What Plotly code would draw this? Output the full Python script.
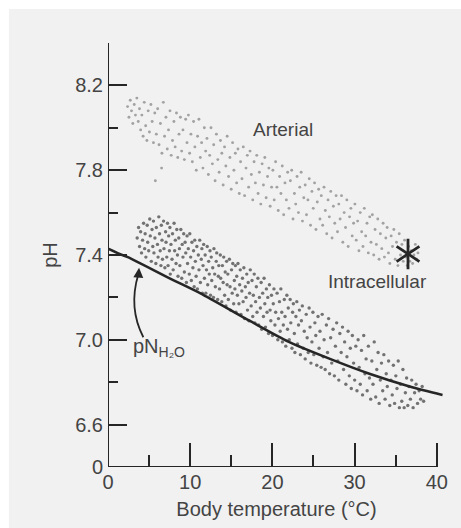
import plotly.graph_objects as go

# ---------------- data ----------------
x_tick_vals = [0, 10, 20, 30, 40]
x_tick_text = ["0", "10", "20", "30", "40"]
x_minor_vals = [5, 15, 25, 35]
y_tick_vals = [6.4, 6.6, 7.0, 7.4, 7.8, 8.2]
y_tick_text = ["0", "6.6", "7.0", "7.4", "7.8", "8.2"]
y_minor_vals = [6.8, 7.2, 7.6, 8.0, 8.4]

# pN(H2O) neutral-water curve
nh2o_temp = [0, 1.4, 2.4, 7.5, 11.2, 17.2, 22.0, 27.0, 31.8, 36.7, 40.7]
nh2o_ph = [7.43, 7.405, 7.39, 7.29, 7.22, 7.09, 6.99, 6.91, 6.84, 6.78, 6.74]

# human arterial value (star)
star_temp = [36.5]
star_ph = [7.405]

arterial_points = [
    (2.38, 8.10), (2.55, 8.05), (2.71, 8.13), (2.86, 8.08), (3.02, 8.02), (3.19, 8.11), (3.34, 8.06), (3.51, 8.14),
    (3.68, 8.03), (3.83, 8.09), (3.97, 7.99),
    (4.12, 8.06), (4.27, 7.96), (4.41, 8.12), (4.58, 8.01), (4.73, 7.94), (4.89, 8.08), (5.04, 7.98), (5.22, 8.11),
    (5.37, 8.03), (5.53, 7.93), (5.69, 8.07), (5.76, 7.75), (5.88, 7.97),
    (6.04, 8.09), (6.21, 7.92), (6.38, 8.02), (6.52, 7.81), (6.56, 7.88), (6.73, 8.12), (6.88, 7.96), (7.05, 8.05),
    (7.21, 7.90), (7.36, 7.99), (7.54, 8.08), (7.69, 7.87), (7.85, 7.94),
    (8.02, 8.03), (8.17, 7.91), (8.33, 8.07), (8.49, 7.86), (8.64, 7.97), (8.81, 8.05), (8.96, 7.89), (9.12, 7.99),
    (9.29, 7.85), (9.45, 8.04), (9.61, 7.93), (9.78, 8.06), (9.93, 7.88),
    (10.09, 7.97), (10.26, 7.84), (10.41, 8.03), (10.57, 7.91), (10.74, 7.80), (10.90, 7.96), (11.06, 8.04),
    (11.23, 7.86), (11.39, 7.93), (11.55, 7.81), (11.72, 8.00), (11.88, 7.89),
    (12.04, 7.95), (12.21, 7.78), (12.37, 7.87), (12.53, 8.00), (12.70, 7.83), (12.86, 7.92), (13.03, 7.75),
    (13.19, 7.97), (13.36, 7.85), (13.52, 7.79), (13.68, 7.94), (13.85, 7.88),
    (14.01, 7.73), (14.18, 7.91), (14.34, 7.82), (14.50, 7.96), (14.67, 7.77), (14.83, 7.86), (14.99, 7.71),
    (15.16, 7.93), (15.32, 7.80), (15.49, 7.88), (15.65, 7.74), (15.81, 7.90), (15.97, 7.69),
    (16.13, 7.84), (16.30, 7.76), (16.46, 7.91), (16.62, 7.68), (16.79, 7.81), (16.95, 7.87), (17.11, 7.72),
    (17.28, 7.89), (17.44, 7.78), (17.61, 7.66), (17.77, 7.84), (17.93, 7.74),
    (18.10, 7.87), (18.26, 7.69), (18.42, 7.79), (18.59, 7.64), (18.75, 7.83), (18.91, 7.73), (19.08, 7.86),
    (19.24, 7.67), (19.41, 7.77), (19.57, 7.81), (19.73, 7.63), (19.90, 7.72),
    (20.06, 7.80), (20.22, 7.66), (20.39, 7.84), (20.55, 7.72), (20.71, 7.61), (20.88, 7.77), (21.04, 7.69),
    (21.20, 7.82), (21.37, 7.59), (21.53, 7.74), (21.70, 7.66), (21.86, 7.79),
    (22.02, 7.62), (22.19, 7.75), (22.35, 7.80), (22.51, 7.57), (22.68, 7.69), (22.84, 7.64), (23.00, 7.77),
    (23.17, 7.60), (23.33, 7.72), (23.50, 7.79), (23.66, 7.56), (23.82, 7.67),
    (23.99, 7.73), (24.15, 7.59), (24.32, 7.66), (24.48, 7.76), (24.64, 7.54), (24.81, 7.70), (24.97, 7.62),
    (25.13, 7.74), (25.30, 7.52), (25.46, 7.65), (25.63, 7.71), (25.79, 7.57),
    (25.95, 7.68), (26.12, 7.54), (26.28, 7.72), (26.44, 7.61), (26.61, 7.50), (26.77, 7.66), (26.93, 7.58),
    (27.10, 7.70), (27.26, 7.48), (27.42, 7.63), (27.59, 7.55), (27.75, 7.68), (27.92, 7.51),
    (28.08, 7.64), (28.24, 7.57), (28.41, 7.68), (28.57, 7.46), (28.73, 7.60), (28.90, 7.53), (29.06, 7.66),
    (29.22, 7.44), (29.39, 7.58), (29.55, 7.62), (29.71, 7.49), (29.88, 7.55),
    (30.04, 7.64), (30.20, 7.47), (30.37, 7.56), (30.53, 7.42), (30.69, 7.60), (30.86, 7.51), (31.02, 7.44),
    (31.18, 7.62), (31.35, 7.49), (31.51, 7.55), (31.67, 7.41), (31.84, 7.58),
    (32.00, 7.46), (32.16, 7.59), (32.33, 7.40), (32.49, 7.52), (32.65, 7.45), (32.82, 7.57), (32.98, 7.38),
    (33.14, 7.50), (33.31, 7.43), (33.47, 7.55), (33.63, 7.39), (33.80, 7.48),
    (33.96, 7.53), (34.12, 7.41), (34.29, 7.36), (34.45, 7.49), (34.61, 7.44), (34.78, 7.52), (34.94, 7.38),
    (35.10, 7.46), (35.27, 7.35), (35.43, 7.50), (35.59, 7.40), (35.76, 7.45), (35.92, 7.37),
    (36.08, 7.47), (36.24, 7.39), (36.41, 7.35), (36.57, 7.44), (36.73, 7.37), (36.90, 7.42), (37.06, 7.36),
    (37.22, 7.40), (37.39, 7.45), (37.55, 7.38), (37.71, 7.41),
]

intracellular_points = [
    (3.55, 7.48), (3.72, 7.53), (3.84, 7.44), (3.97, 7.51), (4.08, 7.41), (4.21, 7.47), (4.33, 7.55), (4.46, 7.43),
    (4.52, 7.50), (4.61, 7.39), (4.77, 7.54), (4.83, 7.46), (4.95, 7.42), (5.08, 7.57), (5.14, 7.49), (5.27, 7.37),
    (5.36, 7.52), (5.45, 7.44),
    (5.53, 7.56), (5.59, 7.41), (5.71, 7.48), (5.82, 7.36), (5.88, 7.53), (6.02, 7.45), (6.09, 7.39), (6.18, 7.58),
    (6.27, 7.50), (6.35, 7.42), (6.44, 7.35), (6.49, 7.54),
    (6.57, 7.47), (6.63, 7.38), (6.76, 7.56), (6.81, 7.43), (6.92, 7.34), (7.01, 7.51), (7.06, 7.46), (7.15, 7.39),
    (7.24, 7.55), (7.31, 7.35), (7.38, 7.49), (7.47, 7.42),
    (7.53, 7.53), (7.58, 7.31), (7.66, 7.45), (7.79, 7.38), (7.85, 7.50), (7.93, 7.33), (8.04, 7.55), (8.11, 7.42),
    (8.19, 7.47), (8.28, 7.36), (8.37, 7.52), (8.45, 7.40),
    (8.52, 7.30), (8.61, 7.48), (8.69, 7.43), (8.74, 7.35), (8.86, 7.52), (8.97, 7.29), (9.03, 7.45), (9.12, 7.39),
    (9.21, 7.50), (9.29, 7.32), (9.38, 7.46), (9.46, 7.41),
    (9.54, 7.27), (9.62, 7.49), (9.68, 7.36), (9.77, 7.43), (9.89, 7.31), (9.95, 7.50), (10.06, 7.39), (10.14, 7.28),
    (10.21, 7.46), (10.33, 7.34), (10.41, 7.42), (10.48, 7.25),
    (10.55, 7.47), (10.63, 7.37), (10.72, 7.30), (10.81, 7.44), (10.88, 7.24), (10.99, 7.40), (11.07, 7.33),
    (11.16, 7.47), (11.24, 7.27), (11.35, 7.38), (11.42, 7.43), (11.49, 7.22),
    (11.56, 7.35), (11.64, 7.45), (11.73, 7.29), (11.82, 7.40), (11.90, 7.22), (11.98, 7.33), (12.07, 7.44),
    (12.13, 7.26), (12.25, 7.37), (12.32, 7.31), (12.41, 7.42), (12.47, 7.21),
    (12.56, 7.39), (12.62, 7.28), (12.74, 7.34), (12.83, 7.20), (12.89, 7.43), (12.98, 7.31), (13.06, 7.25),
    (13.17, 7.37), (13.23, 7.41), (13.34, 7.19), (13.42, 7.30), (13.48, 7.35),
    (13.57, 7.24), (13.66, 7.40), (13.71, 7.29), (13.84, 7.18), (13.92, 7.35), (14.01, 7.27), (14.08, 7.39),
    (14.19, 7.21), (14.26, 7.32), (14.35, 7.16), (14.43, 7.37), (14.49, 7.26),
    (14.58, 7.31), (14.64, 7.19), (14.77, 7.38), (14.85, 7.25), (14.91, 7.14), (15.03, 7.33), (15.11, 7.22),
    (15.18, 7.36), (15.29, 7.17), (15.37, 7.28), (15.44, 7.24), (15.50, 7.35),
    (15.57, 7.13), (15.66, 7.30), (15.74, 7.21), (15.81, 7.36), (15.93, 7.17), (16.02, 7.26), (16.09, 7.33),
    (16.17, 7.12), (16.28, 7.23), (16.36, 7.29), (16.44, 7.18),
    (16.53, 7.34), (16.62, 7.10), (16.71, 7.25), (16.79, 7.20), (16.88, 7.31), (16.97, 7.14), (17.06, 7.27),
    (17.14, 7.09), (17.23, 7.22), (17.31, 7.33), (17.42, 7.16),
    (17.52, 7.28), (17.61, 7.11), (17.68, 7.21), (17.79, 7.31), (17.87, 7.08), (17.96, 7.18), (18.05, 7.25),
    (18.13, 7.13), (18.24, 7.29), (18.33, 7.07), (18.42, 7.20),
    (18.54, 7.15), (18.63, 7.27), (18.70, 7.05), (18.82, 7.22), (18.91, 7.11), (18.99, 7.29), (19.08, 7.17),
    (19.16, 7.06), (19.27, 7.24), (19.35, 7.13), (19.44, 7.20),
    (19.53, 7.03), (19.64, 7.26), (19.72, 7.14), (19.81, 7.09), (19.89, 7.21), (20.02, 7.02), (20.11, 7.17),
    (20.19, 7.24), (20.31, 7.07), (20.40, 7.13),
    (20.57, 7.22), (20.66, 7.00), (20.74, 7.10), (20.86, 7.18), (20.95, 7.04), (21.03, 7.24), (21.14, 7.13),
    (21.22, 6.99), (21.33, 7.07), (21.45, 7.19),
    (21.54, 7.11), (21.63, 6.97), (21.76, 7.21), (21.84, 7.05), (21.93, 7.15), (22.05, 7.00), (22.16, 7.19),
    (22.24, 7.08), (22.38, 6.96), (22.46, 7.13),
    (22.55, 7.17), (22.67, 7.03), (22.74, 6.94), (22.86, 7.11), (22.97, 7.18), (23.06, 6.98), (23.18, 7.07),
    (23.29, 7.14), (23.41, 6.93),
    (23.53, 7.09), (23.64, 7.16), (23.76, 6.96), (23.88, 7.04), (23.99, 6.91), (24.12, 7.12), (24.23, 7.01),
    (24.36, 6.94), (24.47, 7.15),
    (24.58, 7.06), (24.69, 6.89), (24.81, 6.99), (24.93, 7.13), (25.04, 6.93), (25.17, 7.08), (25.28, 7.02),
    (25.40, 6.88),
    (25.55, 7.11), (25.68, 6.96), (25.79, 7.04), (25.93, 6.87), (26.06, 7.12), (26.18, 6.92), (26.29, 7.00),
    (26.42, 6.86),
    (26.57, 7.07), (26.71, 6.94), (26.84, 7.10), (26.96, 6.84), (27.09, 7.01), (27.22, 6.89), (27.38, 7.05),
    (27.54, 6.83), (27.67, 6.97), (27.82, 7.08), (27.95, 6.90), (28.08, 6.81), (28.21, 7.03), (28.37, 6.94),
    (28.53, 7.06), (28.66, 6.86), (28.79, 6.99), (28.94, 6.79), (29.07, 6.92), (29.21, 7.04), (29.36, 6.83),
    (29.48, 6.96),
    (29.60, 6.77), (29.73, 7.02), (29.88, 6.89), (30.01, 6.81), (30.15, 6.97), (30.29, 6.76), (30.43, 7.00),
    (30.56, 6.87), (30.69, 6.79), (30.84, 6.95), (30.97, 6.74), (31.11, 7.02), (31.26, 6.84), (31.40, 6.91),
    (31.53, 6.76), (31.68, 6.97), (31.81, 6.82), (31.96, 6.72), (32.10, 6.90), (32.24, 6.79), (32.39, 6.99),
    (32.57, 6.73), (32.70, 6.86), (32.86, 6.94), (32.99, 6.70), (33.13, 6.81), (33.27, 6.89), (33.42, 6.76),
    (33.56, 6.93), (33.71, 6.72), (33.85, 6.84), (33.98, 6.78), (34.14, 6.90), (34.28, 6.69), (34.43, 6.81),
    (34.58, 6.74), (34.72, 6.88), (34.87, 6.70), (35.02, 6.83), (35.16, 6.77), (35.31, 6.90), (35.45, 6.68),
    (35.59, 6.79), (35.74, 6.71), (35.88, 6.86), (36.03, 6.68), (36.18, 6.75), (36.33, 6.82), (36.47, 6.69),
    (36.62, 6.78), (36.79, 6.72), (36.95, 6.81), (37.12, 6.68), (37.30, 6.75), (37.48, 6.79), (37.66, 6.70),
    (37.85, 6.76), (38.04, 6.72), (38.22, 6.78), (38.40, 6.71),
]

arterial_temp = [p[0] for p in arterial_points]
arterial_ph = [p[1] for p in arterial_points]
intra_temp = [p[0] for p in intracellular_points]
intra_ph = [p[1] for p in intracellular_points]

# ---------------- figure ----------------
FONT = "Arial, Liberation Sans, Helvetica, sans-serif"
TXT = "#444444"
INK = "#262626"
BG = "#f1f1f1"
FS = 20

fig = go.Figure()

fig.add_trace(go.Scatter(
    x=arterial_temp, y=arterial_ph, mode="markers",
    marker=dict(size=2.9, color="#a2a2a2", line=dict(width=0)),
    hoverinfo="skip", showlegend=False))

fig.add_trace(go.Scatter(
    x=intra_temp, y=intra_ph, mode="markers",
    marker=dict(size=3.4, color="#727272", line=dict(width=0)),
    hoverinfo="skip", showlegend=False))

fig.add_trace(go.Scatter(
    x=nh2o_temp, y=nh2o_ph, mode="lines",
    line=dict(color=INK, width=2.6, shape="spline", smoothing=0.8),
    hoverinfo="skip", showlegend=False))

for sym in ["y-up-open", "y-down-open"]:
    fig.add_trace(go.Scatter(
        x=star_temp, y=star_ph, mode="markers",
        marker=dict(symbol=sym, size=19, color=INK, line=dict(width=2.8, color=INK)),
        hoverinfo="skip", showlegend=False))

shapes = [
    # scanned page background
    dict(type="rect", xref="paper", yref="paper", x0=-0.294, x1=1.2, y0=-0.3, y1=1.08,
         fillcolor=BG, line=dict(width=0), layer="below"),
    # axis lines
    dict(type="line", xref="x", yref="y", x0=0, x1=0, y0=6.4, y1=8.4,
         line=dict(color=INK, width=2)),
    dict(type="line", xref="x", yref="y", x0=0, x1=40, y0=6.4, y1=6.4,
         line=dict(color=INK, width=2)),
    # curved arrow shaft
    dict(type="path", xref="x", yref="y",
         path="M 4.3,7.012 Q 2.45,7.15 3.7,7.31",
         line=dict(color=INK, width=1.8)),
]

annotations = [
    dict(x=21.3, y=7.99, xref="x", yref="y", text="Arterial", showarrow=False,
         font=dict(family=FONT, size=19, color=TXT)),
    dict(x=32.8, y=7.277, xref="x", yref="y", text="Intracellular", showarrow=False,
         font=dict(family=FONT, size=19, color=TXT)),
    dict(x=2.75, y=7.03, xref="x", yref="y", text="pN<sub>H₂O</sub>", showarrow=False,
         xanchor="left", yanchor="top",
         font=dict(family=FONT, size=FS, color=TXT)),
    # arrow head
    dict(x=3.78, y=7.34, ax=3.68, ay=7.29, xref="x", yref="y", axref="x", ayref="y",
         text="", showarrow=True, arrowhead=2, arrowsize=1.1, arrowwidth=1.8,
         arrowcolor=INK, standoff=0),
]

fig.update_layout(
    width=461, height=528,
    margin=dict(l=108, r=16, t=43, b=61),
    paper_bgcolor="white", plot_bgcolor=BG,
    font=dict(family=FONT, size=FS, color=TXT),
    shapes=shapes, annotations=annotations,
    xaxis=dict(
        range=[0, 41], showgrid=False, zeroline=False, showline=False,
        tickmode="array", tickvals=x_tick_vals, ticktext=x_tick_text,
        ticks="inside", ticklen=24, tickwidth=2, tickcolor=INK,
        ticklabelstandoff=1,
        tickfont=dict(family=FONT, size=FS, color=TXT),
        minor=dict(tickvals=x_minor_vals, ticks="inside", ticklen=12, tickwidth=2, tickcolor=INK, showgrid=False),
        title=dict(text="Body temperature (°C)", standoff=9,
                   font=dict(family=FONT, size=FS, color=TXT)),
    ),
    yaxis=dict(
        range=[6.4, 8.4], showgrid=False, zeroline=False, showline=False,
        tickmode="array", tickvals=y_tick_vals, ticktext=y_tick_text,
        ticks="inside", ticklen=19, tickwidth=2, tickcolor=INK,
        ticklabelstandoff=4,
        tickfont=dict(family=FONT, size=FS, color=TXT),
        minor=dict(tickvals=y_minor_vals, ticks="inside", ticklen=10, tickwidth=2, tickcolor=INK, showgrid=False),
        title=dict(text="pH", standoff=12,
                   font=dict(family=FONT, size=FS, color=TXT)),
    ),
)

fig.write_html("out.html")
